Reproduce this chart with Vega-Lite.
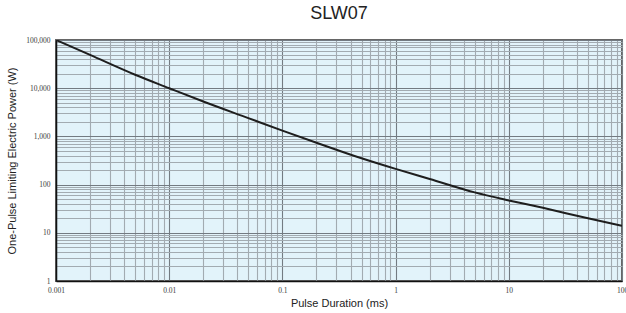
{
  "$schema": "https://vega.github.io/schema/vega-lite/v6.json",
  "autosize": {"type": "none"},
  "width": 566,
  "height": 241,
  "padding": {"left": 56, "top": 40, "right": 4, "bottom": 32},
  "background": "white",
  "title": {"text": "SLW07", "fontSize": 18, "font": "Liberation Sans", "fontWeight": "normal", "color": "#222222", "offset": 13, "anchor": "middle"},
  "config": {"view": {"fill": "#e2f3fa", "stroke": "#666666", "strokeWidth": 2}},
  "data": {"values": [
    {"duration_ms": 0.001, "power_w": 100000},
    {"duration_ms": 0.002, "power_w": 49000},
    {"duration_ms": 0.005, "power_w": 19000},
    {"duration_ms": 0.01, "power_w": 10000},
    {"duration_ms": 0.02, "power_w": 5300},
    {"duration_ms": 0.05, "power_w": 2400},
    {"duration_ms": 0.1, "power_w": 1320},
    {"duration_ms": 0.2, "power_w": 740},
    {"duration_ms": 0.5, "power_w": 352},
    {"duration_ms": 1, "power_w": 212},
    {"duration_ms": 2, "power_w": 131},
    {"duration_ms": 5, "power_w": 69},
    {"duration_ms": 10, "power_w": 47},
    {"duration_ms": 20, "power_w": 33},
    {"duration_ms": 50, "power_w": 20},
    {"duration_ms": 100, "power_w": 14}
  ]},
  "mark": {"type": "line", "color": "#1e1e1e", "strokeWidth": 2, "interpolate": "monotone", "clip": true},
  "encoding": {
    "x": {
      "field": "duration_ms", "type": "quantitative",
      "scale": {"type": "log", "domain": [0.001, 100], "nice": false},
      "axis": {
        "values": [0.001,0.002,0.003,0.004,0.005,0.006,0.007,0.008,0.009,0.01,0.02,0.03,0.04,0.05,0.06,0.07,0.08,0.09,0.1,0.2,0.3,0.4,0.5,0.6,0.7,0.8,0.9,1,2,3,4,5,6,7,8,9,10,20,30,40,50,60,70,80,90,100],
        "labelExpr": "abs(log(datum.value)/LN10 - round(log(datum.value)/LN10)) < 0.000001 ? format(datum.value, '~g') : ''",
        "labelOverlap": false,
        "labelBound": false,
        "labelFlush": false,
        "labelFont": "Liberation Serif",
        "labelFontSize": 7.5,
        "labelColor": "#3a3a3a",
        "labelPadding": 5,
        "ticks": false,
        "domain": true,
        "domainColor": "#111111",
        "domainWidth": 1.5,
        "grid": true,
        "gridColor": {"condition": {"test": "abs(log(datum.value)/LN10 - round(log(datum.value)/LN10)) < 0.000001", "value": "#737b82"}, "value": "#a2abb1"},
        "gridWidth": 1.1,
        "gridOpacity": 1,
        "title": "Pulse Duration (ms)",
        "titleFont": "Liberation Sans",
        "titleFontSize": 11,
        "titleFontWeight": "normal",
        "titleColor": "#222222",
        "titlePadding": 4
      }
    },
    "y": {
      "field": "power_w", "type": "quantitative",
      "scale": {"type": "log", "domain": [1, 100000], "nice": false},
      "axis": {
        "values": [1,2,3,4,5,6,7,8,9,10,20,30,40,50,60,70,80,90,100,200,300,400,500,600,700,800,900,1000,2000,3000,4000,5000,6000,7000,8000,9000,10000,20000,30000,40000,50000,60000,70000,80000,90000,100000],
        "labelExpr": "abs(log(datum.value)/LN10 - round(log(datum.value)/LN10)) < 0.000001 ? format(datum.value, ',') : ''",
        "labelOverlap": false,
        "labelBound": false,
        "labelFlush": false,
        "labelFont": "Liberation Serif",
        "labelFontSize": 7.5,
        "labelColor": "#3a3a3a",
        "labelPadding": 6,
        "ticks": false,
        "domain": true,
        "domainColor": "#111111",
        "domainWidth": 1.5,
        "grid": true,
        "gridColor": {"condition": {"test": "abs(log(datum.value)/LN10 - round(log(datum.value)/LN10)) < 0.000001", "value": "#737b82"}, "value": "#a2abb1"},
        "gridWidth": 1.1,
        "gridOpacity": 1,
        "title": "One-Pulse Limiting Electric Power (W)",
        "titleFont": "Liberation Sans",
        "titleFontSize": 11,
        "titleFontWeight": "normal",
        "titleColor": "#222222",
        "titlePadding": 8
      }
    }
  }
}
